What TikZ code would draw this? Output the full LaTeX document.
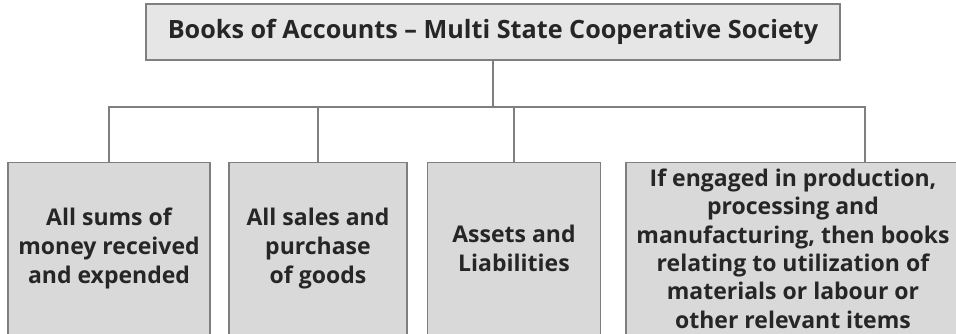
\documentclass[tikz,border=0pt]{standalone}
\usepackage{fontspec}
\setmainfont{Open Sans}
\usepackage{tikz}
\usetikzlibrary{positioning}
\definecolor{boxline}{HTML}{7F7F7F}
\definecolor{headfill}{HTML}{E6E6E6}
\definecolor{itemfill}{HTML}{D9D9D9}
\definecolor{inktext}{HTML}{262626}
\tikzset{
% Define box and connector looks
headbox/.style={rectangle, draw=boxline, line width=1.4pt, fill=headfill,
  text=inktext, font=\bfseries\fontsize{25.2}{30}\selectfont, inner sep=0},
itembox/.style={rectangle, draw=boxline, line width=1.4pt, fill=itemfill,
  text=inktext, align=center, anchor=north, inner sep=0,
  font=\bfseries\fontsize{23}{29}\selectfont, minimum height=172pt},
link/.style={draw=boxline, line width=1.4pt}
}
\begin{document}
\begin{tikzpicture}[x=1pt, y=-1pt]
  \useasboundingbox (0,0) rectangle (956,333);
  \clip (0,0) rectangle (956,333);
  \fill[white] (0,0) rectangle (956,333);

  \node[headbox,
    minimum width = 694pt,
    minimum height = 56pt] (head) at (493, 32) {Books of Accounts -- Multi State Cooperative Society};

  \node[itembox, minimum width = 202pt] (sums) at (109, 162) {All sums of\\money received\\and expended};
  \node[itembox, minimum width = 178pt] (sales) at (318, 162) {All sales and\\purchase\\of goods};
  \node[itembox, minimum width = 173pt] (assets) at (514, 162) {Assets and\\Liabilities};
  \node[itembox, minimum width = 334pt,
    font=\bfseries\fontsize{23}{28.4}\selectfont] (production) at (793, 162) {If engaged in production,\\processing and\\manufacturing, then books\\relating to utilization of\\materials or labour or\\other relevant items};

  \coordinate (bus) at ([yshift=-46pt]head.south);
  \coordinate (prodjoin) at (865, 107);
  \draw[link] (head.south) -- (bus);
  \draw[link] (sums.north) |- (prodjoin) -- (prodjoin |- production.north);
  \draw[link] (sales.north) -- (sales.north |- bus);
  \draw[link] (assets.north) -- (assets.north |- bus);
\end{tikzpicture}
\end{document}
